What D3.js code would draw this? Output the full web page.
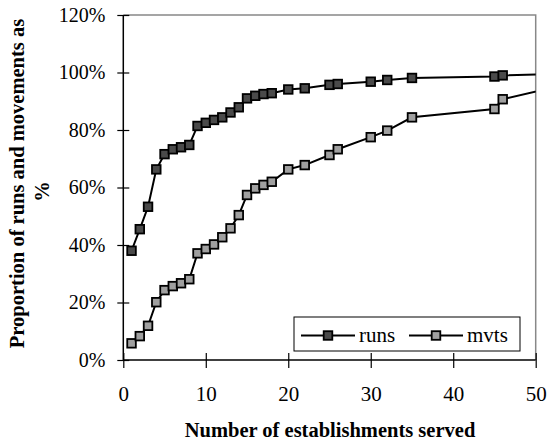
<!DOCTYPE html>
<html><head><meta charset="utf-8">
<script src="https://cdn.jsdelivr.net/npm/d3@7"></script>
<style>body{margin:0;background:#fff}svg{display:block}text{font-family:"Liberation Serif","Times New Roman",serif}</style>
</head><body>
<script>
const runsX = [1,2,3,4,5,6,7,8,9,10,11,12,13,14,15,16,17,18,20,22,25,26,30,32,35,45,46,60];
const runsY = [38,45.5,53.3,66.3,71.6,73.3,74,74.8,81.4,82.5,83.5,84.4,86.1,87.9,91,91.9,92.5,92.8,94.1,94.5,95.7,96,96.8,97.4,98.1,98.6,99,100];
const mvtsX = [1,2,3,4,5,6,7,8,9,10,11,12,13,14,15,16,17,18,20,22,25,26,30,32,35,45,46,60];
const mvtsY = [5.8,8.3,11.9,20.1,24.3,25.7,26.7,28.1,37.1,38.6,40.2,42.7,45.8,50.4,57.4,59.7,60.9,62,66.3,67.8,71.3,73.3,77.5,79.8,84.4,87.3,90.7,100];
const xTicks = [0,10,20,30,40,50];
const yTicks = [0,20,40,60,80,100,120];
const seriesNames = ["runs","mvts"];
const seriesFill = ["#4a4a4a","#a0a0a0"];

const W=547,H=443;
const svg=d3.select("body").append("svg").attr("width",W).attr("height",H);
const x=d3.scaleLinear().domain([0,50]).range([123.3,535.7]);
const y=d3.scaleLinear().domain([0,120]).range([360,15]);

// plot border (top/right grey)
svg.append("path").attr("d",`M${x(0)},${y(120)}H${x(50)}V${y(0)}`).attr("fill","none").attr("stroke","#888").attr("stroke-width",1.5);

svg.append("defs").append("clipPath").attr("id","clip").append("rect")
  .attr("x",x(0)).attr("y",y(120)).attr("width",x(50)-x(0)).attr("height",y(0)-y(120));

// axes
const yAxis=svg.append("g").attr("transform",`translate(${x(0)},0)`)
  .call(d3.axisLeft(y).tickValues(yTicks).tickSize(6).tickPadding(12).tickFormat(d=>d+"%"));
yAxis.select(".domain").remove();
yAxis.selectAll(".tick line").attr("x1",-6).attr("x2",6).attr("stroke","#000").attr("stroke-width",1.2);
yAxis.selectAll("text").attr("font-size",20).attr("fill","#000");
svg.append("line").attr("x1",x(0)).attr("x2",x(0)).attr("y1",y(120)).attr("y2",y(0)).attr("stroke","#000").attr("stroke-width",1.5);

const xAxis=svg.append("g").attr("transform",`translate(0,${y(0)})`)
  .call(d3.axisBottom(x).tickValues(xTicks).tickSize(8).tickPadding(18).tickFormat(d3.format("d")));
xAxis.select(".domain").remove();
xAxis.selectAll(".tick line").attr("y1",-7).attr("y2",8).attr("stroke","#000").attr("stroke-width",1.2);
xAxis.selectAll("text").attr("font-size",21).attr("fill","#000");
svg.append("line").attr("x1",x(0)).attr("x2",x(50)).attr("y1",y(0)).attr("y2",y(0)).attr("stroke","#000").attr("stroke-width",1.5);

// series
const series=[{xs:runsX,ys:runsY},{xs:mvtsX,ys:mvtsY}];
const line=d3.line().x(d=>x(d[0])).y(d=>y(d[1]));
const ms=8.6;
series.forEach((s,i)=>{
  const pts=s.xs.map((v,j)=>[v,s.ys[j]]);
  svg.append("path").attr("clip-path","url(#clip)").attr("d",line(pts)).attr("fill","none").attr("stroke","#000").attr("stroke-width",2);
  svg.append("g").selectAll("rect").data(pts.filter(p=>p[0]<=50)).join("rect")
    .attr("x",d=>x(d[0])-ms/2).attr("y",d=>y(d[1])-ms/2).attr("width",ms).attr("height",ms)
    .attr("fill",seriesFill[i]).attr("stroke","#000").attr("stroke-width",1.8);
});

// legend
const lg=svg.append("g");
lg.append("rect").attr("x",294).attr("y",317).attr("width",226).attr("height",34).attr("fill","#fff").attr("stroke","#000").attr("stroke-width",1);
const legX=[301,409];
seriesNames.forEach((n,i)=>{
  const lx=legX[i], cy=335.5;
  lg.append("line").attr("x1",lx).attr("x2",lx+54).attr("y1",cy).attr("y2",cy).attr("stroke","#000").attr("stroke-width",2);
  lg.append("rect").attr("x",lx+27-ms/2).attr("y",cy-ms/2).attr("width",ms).attr("height",ms).attr("fill",seriesFill[i]).attr("stroke","#000").attr("stroke-width",1.8);
  lg.append("text").attr("x",lx+58).attr("y",cy+6).attr("font-size",21).text(n);
});

// titles
svg.append("text").attr("x",330).attr("y",437).attr("text-anchor","middle").attr("font-size",20.5).attr("font-weight","bold").text("Number of establishments served");
svg.append("text").attr("transform","translate(24,183.5) rotate(-90)").attr("text-anchor","middle").attr("font-size",20.5).attr("font-weight","bold").text("Proportion of runs and movements as");
svg.append("text").attr("transform","translate(49,191.5) rotate(-90)").attr("text-anchor","middle").attr("font-size",20.5).attr("font-weight","bold").text("%");
</script>
</body></html>
